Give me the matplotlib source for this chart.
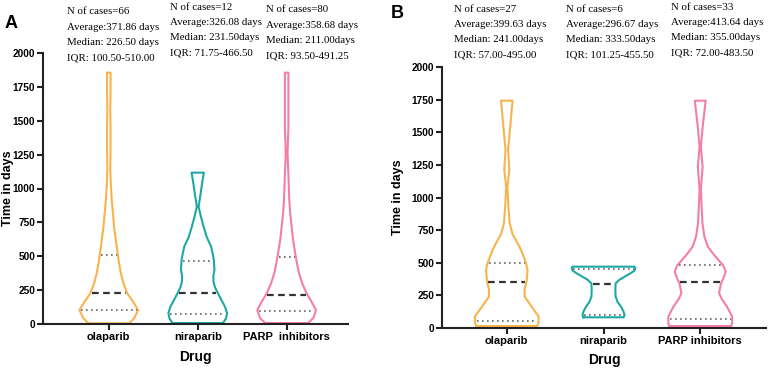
import matplotlib.pyplot as plt
import numpy as np

plt.rcParams["font.family"] = ["Liberation Sans", "DejaVu Sans"]

drugs = ["olaparib", "niraparib", "PARP  inhibitors"]
drugs_b = ["olaparib", "niraparib", "PARP inhibitors"]
colors = ["#F9B34E", "#1DA8A6", "#F47EA6"]

# violin outlines: days and relative density (max = 1)
a_ola_y = [5, 44, 103, 160, 226, 300, 376, 450, 523, 620, 718, 820, 915, 1030, 1137, 1300, 1450, 1580, 1720, 1855]
a_ola_d = [0.70, 0.87, 1.0, 0.84, 0.63, 0.50, 0.41, 0.35, 0.30, 0.24, 0.18, 0.14, 0.10, 0.07, 0.05, 0.06, 0.06, 0.05, 0.06, 0.06]
a_nir_y = [7, 40, 80, 128, 180, 226, 270, 310, 349, 400, 472, 520, 570, 640, 718, 800, 866, 950, 1040, 1117]
a_nir_d = [0.86, 0.96, 1.0, 0.93, 0.80, 0.69, 0.59, 0.54, 0.53, 0.57, 0.55, 0.51, 0.46, 0.31, 0.20, 0.10, 0.03, 0.09, 0.15, 0.21]
a_parp_y = [7, 44, 103, 160, 226, 300, 376, 450, 523, 620, 718, 820, 915, 1100, 1262, 1450, 1700, 1855]
a_parp_d = [0.73, 0.91, 1.0, 0.86, 0.68, 0.53, 0.42, 0.35, 0.29, 0.22, 0.17, 0.12, 0.09, 0.06, 0.03, 0.06, 0.06, 0.06]

b_ola_y = [15, 36, 87, 163, 240, 300, 355, 444, 500, 546, 600, 649, 720, 802, 930, 1083, 1211, 1364, 1550, 1742]
b_ola_d = [0.95, 0.99, 1.0, 0.78, 0.56, 0.56, 0.62, 0.65, 0.60, 0.53, 0.44, 0.34, 0.18, 0.09, 0.05, 0.02, 0.08, 0.04, 0.11, 0.18]
b_nir_y = [82, 100, 130, 163, 200, 240, 290, 342, 370, 393, 420, 440, 460, 470]
b_nir_d = [0.63, 0.66, 0.62, 0.55, 0.44, 0.38, 0.37, 0.38, 0.50, 0.66, 0.85, 0.97, 1.0, 0.97]
b_parp_y = [15, 36, 87, 163, 220, 266, 342, 390, 431, 480, 521, 570, 623, 700, 802, 950, 1057, 1236, 1389, 1550, 1742]
b_parp_d = [0.97, 1.0, 1.0, 0.84, 0.68, 0.59, 0.65, 0.74, 0.80, 0.72, 0.57, 0.40, 0.24, 0.13, 0.07, 0.04, 0.02, 0.075, 0.02, 0.08, 0.17]

# quartile lines as drawn (q1, median, q3)
a_quart = [[100.5, 226.5, 510.0], [71.75, 231.5, 466.5], [93.5, 211.0, 491.25]]
b_quart = [[57.0, 355.0, 495.0], [101.25, 333.5, 455.5], [72.0, 355.0, 483.5]]

a_text = [["N of cases=66", "Average:371.86 days", "Median: 226.50 days", "IQR: 100.50-510.00"],
          ["N of cases=12", "Average:326.08 days", "Median: 231.50days", "IQR: 71.75-466.50"],
          ["N of cases=80", "Average:358.68 days", "Median: 211.00days", "IQR: 93.50-491.25"]]
b_text = [["N of cases=27", "Average:399.63 days", "Median: 241.00days", "IQR: 57.00-495.00"],
          ["N of cases=6", "Average:296.67 days", "Median: 333.50days", "IQR: 101.25-455.50"],
          ["N of cases=33", "Average:413.64 days", "Median: 355.00days", "IQR: 72.00-483.50"]]

W, H = 768, 368
fig = plt.figure(figsize=(W / 100, H / 100), dpi=100)

HALF = 0.33


def violin(ax, pos, ys, ds, quart, color):
    ys = np.array(ys, float)
    ds = np.array(ds, float) * HALF
    xs = np.concatenate([pos - ds, (pos + ds)[::-1], [pos - ds[0]]])
    yy = np.concatenate([ys, ys[::-1], [ys[0]]])
    ax.plot(xs, yy, color=color, lw=1.5, solid_joinstyle="round")
    for i, q in enumerate(quart):
        w = np.interp(q, ys, ds) - 0.015
        if i == 1:
            ax.plot([pos - w, pos + w], [q, q], color="#333333", lw=1.6, ls=(0, (3, 2)))
        else:
            ax.plot([pos - w, pos + w], [q, q], color="#666666", lw=1.2, ls=(0, (1, 2)))


def setup(ax, labels, xlim):
    ax.set_xlim(*xlim)
    ax.set_ylim(0, 2000)
    ax.set_yticks(np.arange(0, 2001, 250))
    ax.set_xticks([1, 2, 3])
    ax.set_xticklabels(labels)
    for s in ["top", "right"]:
        ax.spines[s].set_visible(False)
    for s in ["left", "bottom"]:
        ax.spines[s].set_linewidth(1.5)
        ax.spines[s].set_color("#222222")
    ax.tick_params(width=1.5, length=4, color="#222222")
    ax.tick_params(axis="x", labelsize=8, pad=2)
    ax.tick_params(axis="y", labelsize=7.3, pad=1.5)
    for t in ax.get_xticklabels() + ax.get_yticklabels():
        t.set_fontweight("bold")
    ax.set_ylabel("Time in days", fontweight="bold", fontsize=9)
    ax.set_xlabel("Drug", fontweight="bold", fontsize=10)
    ax.xaxis.label.set_va("center")
    ax.yaxis.label.set_va("center")


axA = fig.add_axes([43 / W, 1 - 324 / H, (348 - 43) / W, (324 - 53) / H])
axB = fig.add_axes([442 / W, 1 - 328 / H, (766 - 442) / W, (328 - 67) / H])

for i, (ys, ds) in enumerate([(a_ola_y, a_ola_d), (a_nir_y, a_nir_d), (a_parp_y, a_parp_d)]):
    violin(axA, i + 1, ys, ds, a_quart[i], colors[i])
for i, (ys, ds) in enumerate([(b_ola_y, b_ola_d), (b_nir_y, b_nir_d), (b_parp_y, b_parp_d)]):
    violin(axB, i + 1, ys, ds, b_quart[i], colors[i])

setup(axA, drugs, (0.26, 3.69))
setup(axB, drugs_b, (0.33, 3.68))
axA.yaxis.set_label_coords(-35 / 305, 0.5)
axB.yaxis.set_label_coords(-44 / 324, 0.5)
axA.xaxis.set_label_coords(0.5, -33 / 271)
axB.xaxis.set_label_coords(0.5, -32 / 261)

# annotation blocks (pixel positions of left edge and first line)
a_pos = [(67, 12), (170, 7), (266, 10)]
b_pos = [(454, 9), (566, 9), (671, 7)]
for blocks, poss in [(a_text, a_pos), (b_text, b_pos)]:
    for lines, (x0, y0) in zip(blocks, poss):
        for k, s in enumerate(lines):
            fig.text(x0 / W, 1 - (y0 + 15.3 * k) / H, s, family="Liberation Serif",
                     fontsize=7.8, va="center", ha="left")

fig.text(5 / W, 1 - 24 / H, "A", fontsize=13, fontweight="bold", va="center")
fig.text(391 / W, 1 - 14 / H, "B", fontsize=13, fontweight="bold", va="center")

fig.savefig("out.png", dpi=100)
